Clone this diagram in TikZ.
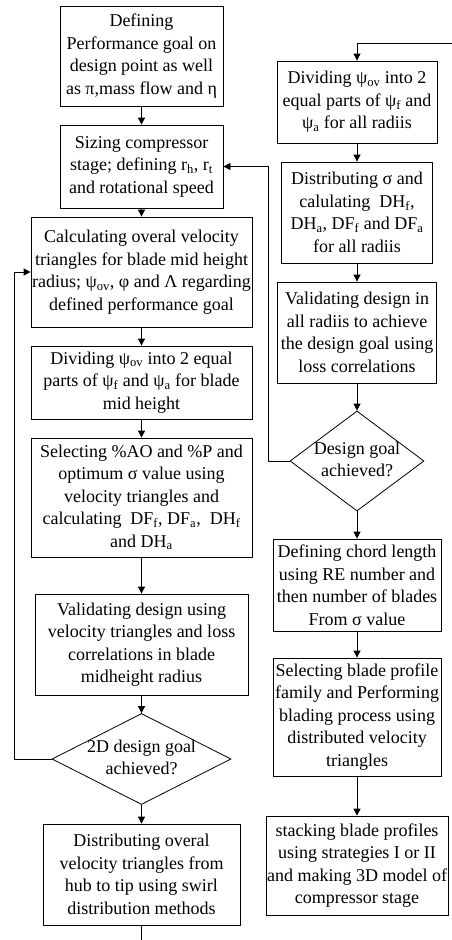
\documentclass[tikz,border=0pt]{standalone}
\usepackage{fontspec}
\setmainfont{Liberation Serif}
\usetikzlibrary{arrows.meta,shapes.geometric}
\newcommand{\sbs}[1]{\textsubscript{#1}}
\begin{document}
\begin{tikzpicture}[x=1pt,y=-1pt,
  box/.style={draw, line width=0.8pt, align=center, inner sep=0pt, font=\fontsize{18}{22.5}\selectfont},
  dia/.style={draw, diamond, line width=0.8pt, inner sep=0pt, font=\fontsize{18}{22.5}\selectfont},
  arr/.style={-{Triangle[length=7pt,width=7pt]}, line width=0.8pt},
  ln/.style={line width=0.8pt}]
\useasboundingbox (0,0) rectangle (452,940);
% left column
\node[box, minimum width=163pt, minimum height=100pt] (B1) at (141.5,56)
  {Defining\\Performance goal on\\design point as well\\as π,mass flow and η};
\node[box, minimum width=163pt, minimum height=83pt] (B2) at (141.5,166.5)
  {Sizing compressor\\stage; defining r\sbs{h}, r\sbs{t}\\and rotational speed};
\node[box, minimum width=221pt, minimum height=110pt] (B3) at (141.5,272)
  {Calculating overal velocity\\triangles for blade mid height\\radius; ψ\sbs{ov}, φ and Λ regarding\\defined performance goal};
\node[box, minimum width=221pt, minimum height=73pt] (B4) at (141.5,382.5)
  {Dividing ψ\sbs{ov} into 2 equal\\parts of ψ\sbs{f} and ψ\sbs{a} for blade\\mid height};
\node[box, minimum width=221pt, minimum height=119pt] (B5) at (141.5,497.5)
  {Selecting \%AO and \%P and\\optimum σ value using\\velocity triangles and\\calculating\ \ DF\sbs{f}, DF\sbs{a},\ \ DH\sbs{f}\\and DH\sbs{a}};
\node[box, minimum width=213pt, minimum height=101pt] (B6) at (141.5,644.5)
  {Validating design using\\velocity triangles and loss\\correlations in blade\\midheight radius};
\node[dia, minimum width=179pt, minimum height=91pt] (D1) at (141.5,759)
  {\makebox[0pt][c]{\begin{tabular}{@{}c@{}}2D design goal\\achieved?\end{tabular}}};
\node[box, minimum width=197pt, minimum height=101pt] (B7) at (141.5,874.5)
  {Distributing overal\\velocity triangles from\\hub to tip using swirl\\distribution methods};
\coordinate (botout) at (141.5,940);
% right column
\coordinate (topin) at (452,43);
\node[box, minimum width=160pt, minimum height=82pt] (R1) at (357,102)
  {Dividing ψ\sbs{ov} into 2\\equal parts of ψ\sbs{f} and\\ψ\sbs{a} for all radiis};
\node[box, minimum width=151pt, minimum height=101pt] (R2) at (357,212.5)
  {Distributing σ and\\calulating\ \ DH\sbs{f},\\DH\sbs{a}, DF\sbs{f} and DF\sbs{a}\\for all radiis};
\node[box, minimum width=159pt, minimum height=101pt] (R3) at (357,332.5)
  {Validating design in\\all radiis to achieve\\the design goal using\\loss correlations};
\node[dia, minimum width=134pt, minimum height=100pt] (D2) at (357,461)
  {\makebox[0pt][c]{\begin{tabular}{@{}c@{}}Design goal\\achieved?\end{tabular}}};
\node[box, minimum width=168pt, minimum height=92pt] (R4) at (357,585)
  {Defining chord length\\using RE number and\\then number of blades\\From σ value};
\node[box, minimum width=168pt, minimum height=118pt] (R5) at (357,717)
  {Selecting blade profile\\family and Performing\\blading process using\\distributed velocity\\triangles};
\node[box, minimum width=182pt, minimum height=99pt] (R6) at (357,865.5)
  {stacking blade profiles\\using strategies I or II\\and making 3D model of\\compressor stage};
% connectors
\draw[arr] (B1) -- (B2);
\draw[arr] (B2) -- (B3);
\draw[arr] (B3) -- (B4);
\draw[arr] (B4) -- (B5);
\draw[arr] (B5) -- (B6);
\draw[arr] (B6) -- (D1);
\draw[arr] (D1) -- (B7);
\draw[ln] (B7.south) -- (botout);
\draw[arr] (D1.west) -- ++(-37,0) |- (B3.west);
\draw[arr] (topin) -| (R1.north);
\draw[arr] (R1) -- (R2);
\draw[arr] (R2) -- (R3);
\draw[arr] (R3) -- (D2);
\draw[arr] (D2) -- (R4);
\draw[arr] (R4) -- (R5);
\draw[arr] (R5) -- (R6);
\draw[arr] (D2.west) -- ++(-21,0) |- (B2.east);
\end{tikzpicture}
\end{document}
